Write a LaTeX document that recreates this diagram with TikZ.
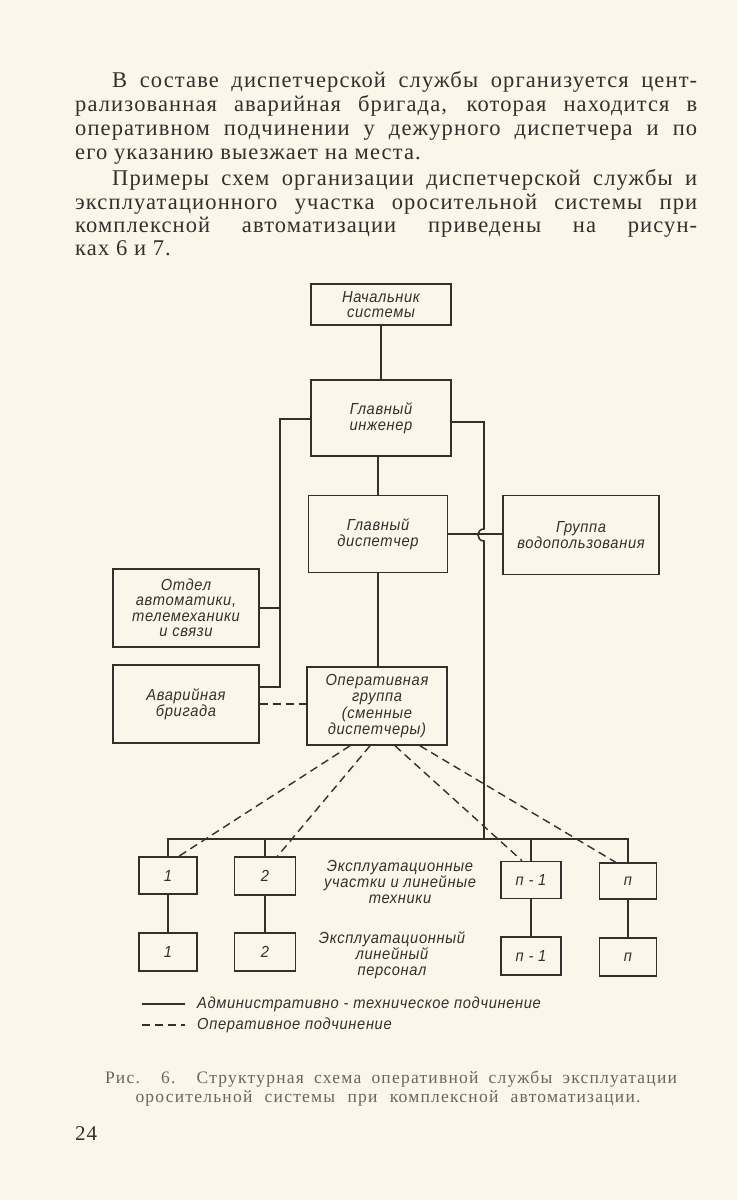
\documentclass[tikz,border=0pt]{standalone}
\usepackage{fontspec}
\setmainfont{Liberation Serif}[LetterSpace=5]
\newfontfamily\chert[FakeStretch=0.92,LetterSpace=4]{Liberation Sans}
\newfontfamily\podp[LetterSpace=7]{Liberation Serif}
\usepackage{xcolor}
\usepackage{tikz}
\definecolor{bumaga}{RGB}{250,246,234}
\definecolor{kraska}{RGB}{50,48,45}
\definecolor{podpis}{RGB}{105,102,98}

\begin{document}
\begin{tikzpicture}[x=1pt,y=-1pt,
  blok/.style={draw=kraska, line width=1.6pt, inner sep=0pt, align=center,
    text=kraska, font=\chert\itshape\fontsize{16}{15.5}\selectfont},
  nadpis/.style={inner sep=0pt, align=center, text=kraska,
    font=\chert\itshape\fontsize{16}{16}\selectfont},
  svyaz/.style={draw=kraska, line width=1.6pt},
  punktir/.style={svyaz, line width=1.4pt, dash pattern=on 8pt off 5pt},
  stroka/.style={anchor=base west, inner sep=0pt, text=kraska,
    font=\fontsize{22.5}{24}\selectfont}]
% 纸
\fill[bumaga] (0,0) rectangle (737,1200);
% 正文
\node[stroka] (t1) at (112,87) {\makebox[585pt][s]{В составе диспетчерской службы организуется цент-}};
\node[stroka] (t2) at (75,111) {\makebox[622pt][s]{рализованная аварийная бригада, которая находится в}};
\node[stroka] (t3) at (75,135) {\makebox[622pt][s]{оперативном подчинении у дежурного диспетчера и по}};
\node[stroka] (t4) at (75,159) {его указанию выезжает на места.};
\node[stroka] (t5) at (112,185) {\makebox[585pt][s]{Примеры схем организации диспетчерской службы и}};
\node[stroka] (t6) at (75,209) {\makebox[622pt][s]{эксплуатационного участка оросительной системы при}};
\node[stroka] (t7) at (75,232) {\makebox[622pt][s]{комплексной автоматизации приведены на рисун-}};
\node[stroka] (t8) at (75,255) {ках 6 и 7.};
% 节点定义
\node[blok, minimum width=140pt, minimum height=41pt] (nach) at (381,304.5) {Начальник\\системы};
\node[blok, minimum width=140pt, minimum height=76pt] (ging) at (381,418) {Главный\\инженер};
\node[blok, minimum width=139pt, minimum height=77pt] (gdisp) at (378,534) {Главный\\диспетчер};
\node[blok, minimum width=156pt, minimum height=79pt] (gvod) at (581,535) {Группа\\водопользования};
\node[blok, minimum width=146pt, minimum height=78pt] (otdel) at (186,608) {Отдел\\автоматики,\\телемеханики\\и связи};
\node[blok, minimum width=146pt, minimum height=78pt] (avar) at (186,704) {Аварийная\\бригада};
\node[blok, minimum width=140pt, minimum height=78pt, font=\chert\itshape\fontsize{16}{16.5}\selectfont] (oper) at (377,706) {Оперативная\\группа\\(сменные\\диспетчеры)};
\node[blok, minimum width=58pt, minimum height=37pt] (u1) at (168,875.5) {1};
\node[blok, minimum width=61pt, minimum height=38pt] (u2) at (265,876) {2};
\node[blok, minimum width=60pt, minimum height=37pt] (un1) at (531,880) {п - 1};
\node[blok, minimum width=57pt, minimum height=36pt] (un) at (628,881) {п};
\node[blok, minimum width=58pt, minimum height=38pt] (p1) at (168,952) {1};
\node[blok, minimum width=61pt, minimum height=38pt] (p2) at (265,952) {2};
\node[blok, minimum width=60pt, minimum height=38pt] (pn1) at (531,956) {п - 1};
\node[blok, minimum width=57pt, minimum height=38pt] (pn) at (628,957) {п};
\node[nadpis] (uch) at (400,882) {Эксплуатационные\\участки и линейные\\техники};
\node[nadpis] (pers) at (392,955) {Эксплуатационный\\линейный\\персонал};
% 辅助点
\coordinate (lt) at (280,419);
\coordinate (rt) at (484,422);
\coordinate (hopa) at (484,529);
\coordinate (hopb) at (484,541);
\coordinate (bus) at (168,839);
% 连线
\draw[svyaz] (nach) -- (nach.south |- ging.north);
\draw[svyaz] (gdisp.north |- ging.south) -- (gdisp.north);
\draw[svyaz] (gdisp.south |- oper.north) -- (gdisp.south);
\draw[svyaz] (ging.west |- lt) -- (lt) |- ([yshift=17pt]avar.east);
\draw[svyaz] (otdel.east) -- (otdel.east -| lt);
\draw[svyaz] (gdisp.east) -- (gdisp.east -| gvod.west);
\draw[svyaz] (ging.east |- rt) -- (rt) -- (hopa) .. controls (476,529) and (476,541) .. (hopb) -- (hopb |- bus);
\draw[svyaz] (u1.north) -- (u1.north |- bus) -- (un.north |- bus) -- (un.north);
\draw[svyaz] (u2.north) -- (u2.north |- bus);
\draw[svyaz] (un1.north) -- (un1.north |- bus);
\draw[svyaz] (u1) -- (p1);
\draw[svyaz] (u2) -- (p2);
\draw[svyaz] (un1) -- (pn1);
\draw[svyaz] (un) -- (pn);
\draw[punktir] (avar.east) -- (avar.east -| oper.west);
\draw[punktir] ([xshift=-27pt]oper.south) -- ([xshift=11pt]u1.north);
\draw[punktir] ([xshift=-7pt]oper.south) -- ([xshift=12.5pt]u2.north);
\draw[punktir] ([xshift=18pt]oper.south) -- ([xshift=-9pt]un1.north);
\draw[punktir] ([xshift=43pt]oper.south) -- ([xshift=-12.5pt]un.north);
% 图例
\coordinate (l1a) at (142,1004);
\coordinate (l1b) at (185,1004);
\coordinate (l2a) at (142,1025);
\coordinate (l2b) at (185,1025);
\draw[svyaz] (l1a) -- (l1b);
\draw[punktir] (l2a) -- (l2b);
\node[nadpis, anchor=west] (leg1) at (197,1004) {Административно - техническое подчинение};
\node[nadpis, anchor=west] (leg2) at (197,1025) {Оперативное подчинение};
% 图注
\node[anchor=base, inner sep=0pt, text=podpis, font=\podp\fontsize{17.5}{20}\selectfont] (cap1) at (391,1083) {\makebox[572pt][s]{Рис. 6. Структурная схема оперативной службы эксплуатации}};
\node[anchor=base, inner sep=0pt, text=podpis, font=\podp\fontsize{17.5}{20}\selectfont] (cap2) at (388,1102) {\makebox[505pt][s]{оросительной системы при комплексной автоматизации.}};
\node[anchor=base west, inner sep=0pt, text=kraska, font=\fontsize{21}{22}\selectfont] (str) at (75,1140) {24};
\end{tikzpicture}
\end{document}
